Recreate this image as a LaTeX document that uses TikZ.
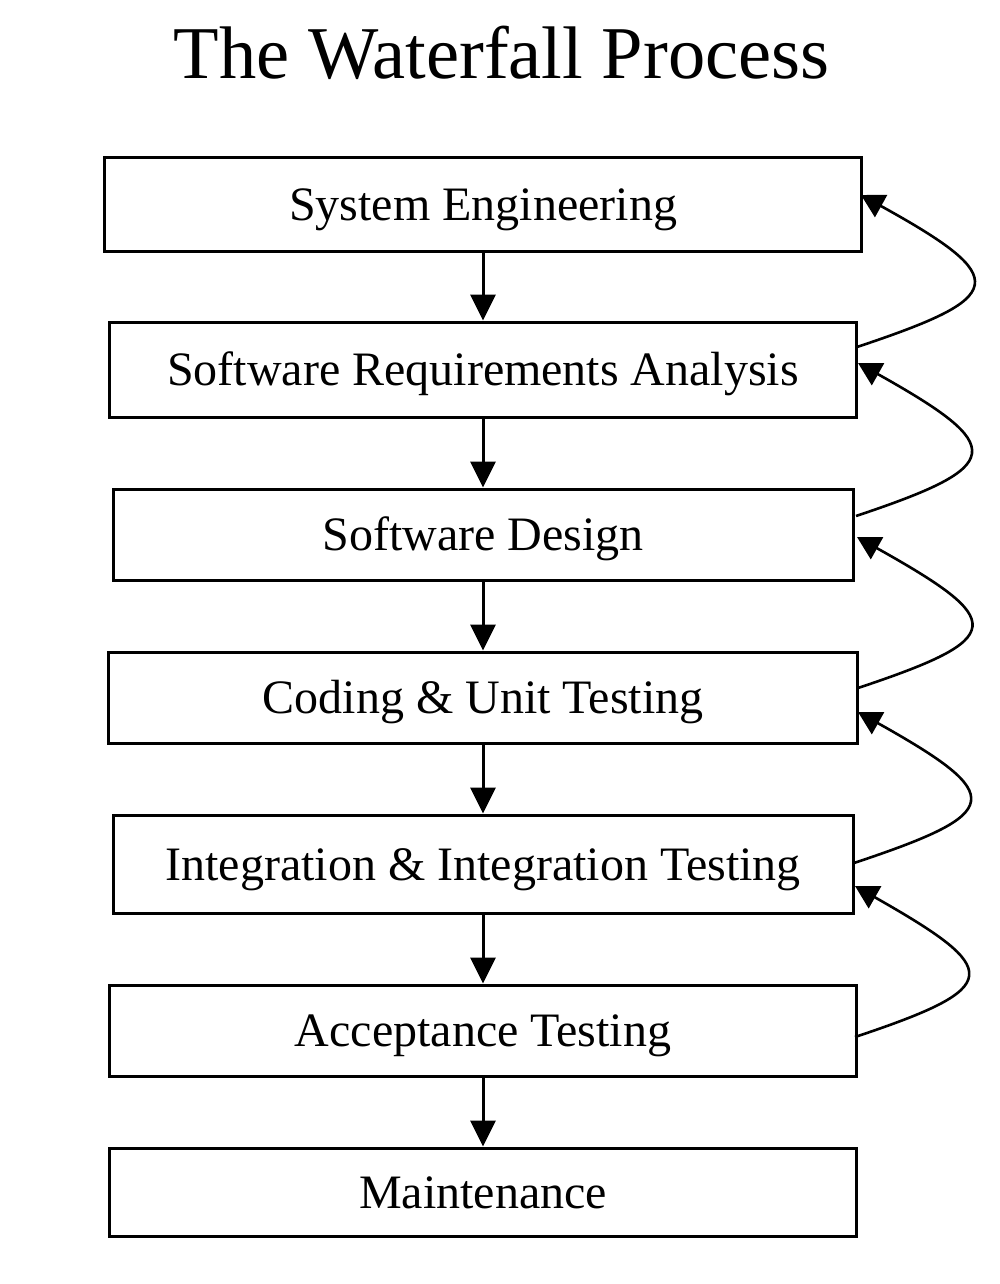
\documentclass[tikz,border=0pt]{standalone}
\usepackage{fontspec}
\setmainfont{Liberation Serif}
\usetikzlibrary{arrows.meta}
\begin{document}
\begin{tikzpicture}[x=1pt,y=-1pt,
  stagebox/.style={draw=black, line width=3pt, inner sep=0pt, align=center,
    font=\fontsize{48}{58}\selectfont, text height=32pt, text depth=0pt},
  downarrow/.style={line width=3pt, -{Triangle[length=26pt,width=25pt]}},
  backarrow/.style={line width=2.6pt, -{Triangle[length=23pt,width=25pt]}}
]
\useasboundingbox (0,0) rectangle (1000,1284);
\node[anchor=base, font=\fontsize{74.5}{90}\selectfont] (title) at (501.5,79) {The Waterfall Process};

\node[stagebox, minimum width=757pt, minimum height=93pt] (b1) at (483,204.5) {System Engineering};
\node[stagebox, minimum width=747pt, minimum height=95pt] (b2) at (483,369.5) {Software Requirements Analysis};
\node[stagebox, minimum width=740pt, minimum height=91pt] (b3) at (483,534.5) {Software Design};
\node[stagebox, minimum width=749pt, minimum height=91pt] (b4) at (483,697.5) {Coding \& Unit Testing};
\node[stagebox, minimum width=740pt, minimum height=98pt] (b5) at (483,864) {Integration \& Integration Testing};
\node[stagebox, minimum width=747pt, minimum height=91pt] (b6) at (483,1030.5) {Acceptance Testing};
\node[stagebox, minimum width=747pt, minimum height=88pt] (b7) at (483,1192) {Maintenance};

\draw[downarrow] (b1) -- (b2);
\draw[downarrow] (b2) -- (b3);
\draw[downarrow] (b3) -- (b4);
\draw[downarrow] (b4) -- (b5);
\draw[downarrow] (b5) -- (b6);
\draw[downarrow] (b6) -- (b7);

% feedback arrow end points
\coordinate (s2) at (857,347);  \coordinate (t1) at (861,195);
\coordinate (s3) at (856,516);  \coordinate (t2) at (858,363);
\coordinate (s4) at (858,688);  \coordinate (t3) at (857,537);
\coordinate (s5) at (854,863);  \coordinate (t4) at (858,712);
\coordinate (s6) at (855,1037); \coordinate (t5) at (855,886);

\draw[backarrow] (s2) .. controls +(150,-50) and +(152,84) .. (t1);
\draw[backarrow] (s3) .. controls +(150,-50) and +(150,84) .. (t2);
\draw[backarrow] (s4) .. controls +(150,-50) and +(150,84) .. (t3);
\draw[backarrow] (s5) .. controls +(150,-50) and +(150,84) .. (t4);
\draw[backarrow] (s6) .. controls +(150,-50) and +(148,84) .. (t5);
\end{tikzpicture}
\end{document}
